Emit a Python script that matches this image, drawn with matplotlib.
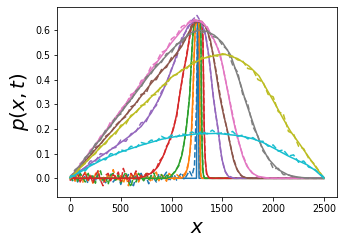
import numpy as np
import matplotlib
matplotlib.use("Agg")
import matplotlib.pyplot as plt

# ---------------- solid curves (x, p) ----------------
blue_x = [0, 1245, 1255, 1262, 1270, 2500]
blue_y = [0, 0, 0.63, 0.63, 0, 0]

orange_x = [0, 1080, 1105, 1135, 1160, 1178, 1195, 1208, 1222, 1233, 1245, 1268, 1273, 1277, 1281, 1286, 1295, 2500]
orange_y = [0, 0, 0.002, 0.015, 0.045, 0.094, 0.19, 0.32, 0.5, 0.615, 0.635, 0.635, 0.58, 0.4, 0.13, 0.02, 0, 0]

green_x = [0, 950, 987, 1036, 1070, 1102, 1125, 1145, 1162, 1178, 1191, 1205, 1217, 1232, 1283, 1289, 1294, 1300, 1307, 1315, 1330, 2500]
green_y = [0, 0, 0.006, 0.027, 0.055, 0.094, 0.15, 0.203, 0.27, 0.335, 0.45, 0.55, 0.615, 0.635, 0.635, 0.56, 0.33, 0.13, 0.04, 0.008, 0, 0]

red_x = [0, 650, 700, 760, 822, 870, 921, 970, 1020, 1050, 1079, 1110, 1151, 1175, 1195, 1215, 1300, 1308, 1314, 1320, 1327, 1334, 1345, 1365, 1390, 2500]
red_y = [0, 0, 0.004, 0.012, 0.027, 0.05, 0.094, 0.145, 0.203, 0.26, 0.335, 0.42, 0.5, 0.57, 0.615, 0.635, 0.635, 0.56, 0.4, 0.22, 0.11, 0.06, 0.02, 0.003, 0, 0]

purple_x = [0, 150, 300, 450, 600, 700, 800, 900, 1000, 1100, 1160, 1220, 1290, 1330, 1365, 1390, 1410, 1435, 1457, 1480, 1497, 1530, 1563, 1620, 2500]
purple_y = [0, 0.045, 0.088, 0.13, 0.175, 0.21, 0.265, 0.34, 0.44, 0.56, 0.615, 0.635, 0.635, 0.59, 0.5, 0.41, 0.33, 0.26, 0.2, 0.12, 0.075, 0.025, 0.006, 0, 0]

brown_x = [0, 300, 600, 800, 1000, 1100, 1180, 1230, 1300, 1340, 1382, 1420, 1475, 1510, 1546, 1580, 1612, 1650, 1694, 1750, 2500]
brown_y = [0, 0.14, 0.28, 0.385, 0.48, 0.535, 0.6, 0.63, 0.635, 0.61, 0.56, 0.47, 0.33, 0.26, 0.2, 0.13, 0.07, 0.03, 0.008, 0, 0]

pink_x = [0, 300, 600, 800, 1000, 1100, 1170, 1220, 1300, 1350, 1420, 1480, 1520, 1563, 1600, 1622, 1660, 1700, 1740, 1790, 1850, 1950, 2000, 2500]
pink_y = [0, 0.165, 0.33, 0.44, 0.55, 0.6, 0.63, 0.638, 0.635, 0.61, 0.56, 0.5, 0.42, 0.33, 0.25, 0.21, 0.15, 0.09, 0.05, 0.022, 0.008, 0.001, 0, 0]

gray_x = [0, 300, 600, 800, 1000, 1100, 1200, 1280, 1350, 1420, 1500, 1580, 1630, 1680, 1730, 1780, 1830, 1880, 1950, 2050, 2150, 2250, 2350, 2500]
gray_y = [0, 0.16, 0.32, 0.43, 0.52, 0.56, 0.592, 0.6, 0.595, 0.58, 0.55, 0.5, 0.44, 0.38, 0.31, 0.25, 0.19, 0.135, 0.08, 0.035, 0.013, 0.004, 0.001, 0]

olive_x = [0, 300, 600, 800, 1000, 1150, 1300, 1450, 1530, 1650, 1760, 1860, 2007, 2100, 2171, 2250, 2336, 2420, 2500]
olive_y = [0, 0.125, 0.25, 0.33, 0.41, 0.45, 0.485, 0.5, 0.502, 0.485, 0.455, 0.415, 0.31, 0.24, 0.19, 0.145, 0.094, 0.045, 0]

cyan_x = [0, 100, 200, 345, 500, 707, 900, 1036, 1250, 1450, 1678, 1800, 1900, 2007, 2150, 2336, 2420, 2500]
cyan_y = [0.003, 0.025, 0.05, 0.081, 0.107, 0.135, 0.158, 0.169, 0.18, 0.182, 0.172, 0.16, 0.145, 0.122, 0.09, 0.054, 0.03, 0]

# ---------------- noisy (dashed) data ----------------
noise_step = 25
blue_noise = [0.005, -0.01, 0.012, -0.015, 0.02, -0.005, 0.01, -0.02, 0.015, 0.0,
              -0.012, 0.025, -0.01, 0.005, -0.018, 0.01, 0.02, -0.015, 0.0, 0.012,
              -0.025, 0.008, -0.005, 0.015, -0.02, -0.03, 0.01, -0.01, 0.02, -0.008,
              0.005, -0.022, 0.012, 0.0, -0.015, 0.018, -0.005, 0.01, 0.025, -0.012,
              0.005, 0.015, -0.008, 0.01, 0.022, -0.005, 0.012, 0.03, 0.01]
blue_tail_x = [1225, 1245, 1255, 1265, 1275, 1300, 2500]
blue_tail_y = [0.05, 0.3, 0.62, 0.3, 0.02, 0.0, 0.0]

orange_noise = [-0.005, 0.015, -0.012, 0.02, 0.008, -0.018, 0.025, -0.01, 0.012, -0.02,
                0.018, 0.03, -0.008, 0.01, -0.015, 0.02, -0.01, 0.035, 0.005, -0.012,
                0.015, -0.02, 0.01, -0.03, 0.02, -0.005, 0.03, -0.015, 0.01, -0.008,
                0.02, 0.0, -0.015, 0.012, 0.025, -0.01, 0.015, 0.005, -0.012, 0.02,
                0.01, -0.005, 0.015]
orange_tail_x = [1080, 1110, 1140, 1165, 1185, 1200, 1212, 1222, 1235, 1255, 1270, 1276, 1281, 1287, 1300, 2500]
orange_tail_y = [0.005, 0.01, 0.025, 0.06, 0.12, 0.21, 0.34, 0.5, 0.62, 0.64, 0.63, 0.42, 0.12, 0.01, 0, 0]

green_noise = [0.01, -0.008, 0.015, -0.012, 0.02, 0.005, -0.015, 0.025, -0.005, 0.01,
               -0.02, 0.015, 0.03, -0.01, 0.005, -0.025, 0.012, 0.02, -0.008, 0.015,
               -0.018, 0.008, 0.025, -0.012, -0.035, 0.01, -0.015, 0.02, 0.005, -0.01,
               0.018, -0.005, 0.012, 0.022, -0.008, 0.01, 0.015, -0.005, 0.012]
green_tail_x = [975, 1000, 1036, 1070, 1102, 1125, 1145, 1162, 1178, 1191, 1205, 1218, 1235, 1280, 1289, 1294, 1301, 1310, 1325, 2500]
green_tail_y = [0.01, 0.012, 0.03, 0.05, 0.1, 0.145, 0.21, 0.27, 0.34, 0.44, 0.56, 0.62, 0.64, 0.635, 0.58, 0.33, 0.13, 0.02, 0, 0]

red_noise = [-0.01, 0.012, -0.005, 0.02, -0.015, 0.008, 0.025, -0.012, 0.015, -0.02,
             0.01, 0.03, -0.008, -0.03, 0.012, 0.02, -0.01, 0.015, 0.005, 0.025,
             -0.012, 0.04, 0.01, -0.015, 0.02, 0.005, 0.03, -0.01, 0.012]
red_tail_x = [725, 760, 790, 822, 850, 880, 921, 950, 985, 1020, 1050, 1079, 1110, 1151, 1175, 1195, 1220, 1295, 1308, 1315, 1323, 1332, 1345, 1370, 1400, 2500]
red_tail_y = [0.01, 0.02, 0.015, 0.035, 0.04, 0.07, 0.09, 0.13, 0.15, 0.21, 0.25, 0.34, 0.41, 0.51, 0.56, 0.625, 0.64, 0.635, 0.58, 0.37, 0.17, 0.07, 0.018, 0.002, 0, 0]

purple_dx = [0, 50, 100, 150, 200, 250, 300, 350, 400, 450, 500, 550, 600, 650, 700, 750, 800, 850, 900, 950,
             1000, 1050, 1100, 1150, 1200, 1250, 1300, 1340, 1370, 1400, 1430, 1460, 1490, 1520, 1550, 1600, 1700, 2500]
purple_dy = [0.005, 0.01, 0.035, 0.04, 0.07, 0.07, 0.1, 0.095, 0.12, 0.125, 0.155, 0.15, 0.18, 0.19, 0.225, 0.23, 0.275, 0.295, 0.35, 0.385,
             0.445, 0.49, 0.57, 0.6, 0.64, 0.66, 0.625, 0.57, 0.48, 0.37, 0.27, 0.19, 0.09, 0.035, 0.012, 0.002, 0, 0]

brown_dx = [0, 50, 100, 150, 200, 250, 300, 350, 400, 450, 500, 550, 600, 650, 700, 750, 800, 850, 900, 950,
            1000, 1050, 1100, 1150, 1200, 1250, 1300, 1350, 1400, 1440, 1480, 1520, 1560, 1600, 1640, 1680, 1720, 1800, 2500]
brown_dy = [0.0, 0.03, 0.045, 0.075, 0.09, 0.125, 0.135, 0.17, 0.185, 0.215, 0.235, 0.25, 0.29, 0.3, 0.34, 0.345, 0.395, 0.4, 0.44, 0.45,
            0.49, 0.5, 0.545, 0.57, 0.62, 0.64, 0.63, 0.6, 0.52, 0.43, 0.33, 0.245, 0.17, 0.095, 0.04, 0.012, 0.003, 0, 0]

pink_dx = [0, 50, 100, 150, 200, 250, 300, 350, 400, 450, 500, 550, 600, 650, 700, 750, 800, 850, 900, 950,
           1000, 1050, 1100, 1150, 1200, 1250, 1300, 1350, 1400, 1450, 1500, 1550, 1600, 1650, 1700, 1750, 1800, 1850, 1900, 2000, 2500]
pink_dy = [0.01, 0.02, 0.06, 0.075, 0.115, 0.13, 0.17, 0.185, 0.23, 0.24, 0.28, 0.3, 0.34, 0.35, 0.395, 0.41, 0.455, 0.47, 0.51, 0.52,
           0.565, 0.58, 0.615, 0.625, 0.645, 0.64, 0.63, 0.615, 0.57, 0.535, 0.46, 0.36, 0.26, 0.16, 0.095, 0.045, 0.02, 0.006, 0.002, 0, 0]

gray_dx = [0, 50, 100, 150, 200, 250, 300, 350, 400, 450, 500, 550, 600, 650, 700, 750, 800, 850, 900, 950,
           1000, 1050, 1100, 1150, 1200, 1250, 1300, 1350, 1400, 1450, 1500, 1550, 1600, 1650, 1700, 1750, 1800, 1850, 1900, 1950,
           2000, 2050, 2100, 2150, 2200, 2300, 2400, 2500]
gray_dy = [0.0, 0.035, 0.05, 0.085, 0.1, 0.14, 0.155, 0.195, 0.21, 0.25, 0.26, 0.3, 0.315, 0.355, 0.37, 0.41, 0.425, 0.46, 0.47, 0.505,
           0.51, 0.545, 0.55, 0.58, 0.585, 0.6, 0.59, 0.6, 0.575, 0.57, 0.54, 0.52, 0.46, 0.43, 0.34, 0.3, 0.21, 0.17, 0.11, 0.085,
           0.04, 0.04, 0.015, 0.014, 0.005, 0.002, 0, 0]

olive_dx = [0, 50, 100, 150, 200, 250, 300, 350, 400, 450, 500, 550, 600, 650, 700, 750, 800, 850, 900, 950,
            1000, 1050, 1100, 1150, 1200, 1250, 1300, 1350, 1400, 1450, 1500, 1550, 1600, 1650, 1700, 1750, 1800, 1850, 1900, 1950,
            2000, 2050, 2100, 2150, 2200, 2250, 2300, 2350, 2400, 2450, 2500]
olive_dy = [0.005, 0.015, 0.045, 0.06, 0.085, 0.1, 0.13, 0.14, 0.17, 0.18, 0.215, 0.22, 0.255, 0.265, 0.295, 0.3, 0.335, 0.34, 0.375, 0.38,
            0.415, 0.42, 0.44, 0.445, 0.47, 0.475, 0.49, 0.49, 0.5, 0.495, 0.505, 0.5, 0.495, 0.48, 0.475, 0.445, 0.44, 0.4, 0.39, 0.34,
            0.33, 0.27, 0.26, 0.19, 0.18, 0.13, 0.12, 0.08, 0.06, 0.03, 0.0]

cyan_dx = [0, 50, 100, 150, 200, 250, 300, 350, 400, 450, 500, 550, 600, 650, 700, 750, 800, 850, 900, 950,
           1000, 1050, 1100, 1150, 1200, 1250, 1300, 1350, 1400, 1450, 1500, 1550, 1600, 1650, 1700, 1750, 1800, 1850, 1900, 1950,
           2000, 2050, 2100, 2150, 2200, 2250, 2300, 2350, 2400, 2450, 2500]
cyan_dy = [0.01, 0.01, 0.03, 0.03, 0.055, 0.06, 0.08, 0.075, 0.1, 0.095, 0.115, 0.11, 0.13, 0.125, 0.145, 0.14, 0.155, 0.15, 0.17, 0.16,
           0.175, 0.168, 0.18, 0.175, 0.188, 0.178, 0.19, 0.18, 0.195, 0.18, 0.185, 0.178, 0.19, 0.17, 0.175, 0.16, 0.165, 0.15, 0.15, 0.13,
           0.135, 0.11, 0.115, 0.09, 0.095, 0.065, 0.07, 0.045, 0.04, 0.02, 0.005]


def noisy(noise, tail_x, tail_y):
    nx = list(np.arange(len(noise)) * noise_step)
    return nx + list(tail_x), list(noise) + list(tail_y)


series = [
    ("C0", (blue_x, blue_y), noisy(blue_noise, blue_tail_x, blue_tail_y)),
    ("C1", (orange_x, orange_y), noisy(orange_noise, orange_tail_x, orange_tail_y)),
    ("C2", (green_x, green_y), noisy(green_noise, green_tail_x, green_tail_y)),
    ("C3", (red_x, red_y), noisy(red_noise, red_tail_x, red_tail_y)),
    ("C4", (purple_x, purple_y), (purple_dx, purple_dy)),
    ("C5", (brown_x, brown_y), (brown_dx, brown_dy)),
    ("C6", (pink_x, pink_y), (pink_dx, pink_dy)),
    ("C7", (gray_x, gray_y), (gray_dx, gray_dy)),
    ("C8", (olive_x, olive_y), (olive_dx, olive_dy)),
    ("C9", (cyan_x, cyan_y), (cyan_dx, cyan_dy)),
]

fig = plt.figure(figsize=(343 / 72, 244 / 72), dpi=72)
ax = fig.add_axes([57.3 / 343, 1 - 196.7 / 244, (336.7 - 57.3) / 343, (196.7 - 7.3) / 244])

for color, (sx, sy), (dx, dy) in series:
    ax.plot(sx, sy, color=color, lw=1.5)
    ax.plot(dx, dy, color=color, lw=1.5, ls="--")

ax.set_xlim(-125, 2625)
ax.set_ylim(-0.0746, 0.693)
ax.set_xticks([0, 500, 1000, 1500, 2000, 2500])
ax.set_yticks([0.0, 0.1, 0.2, 0.3, 0.4, 0.5, 0.6])
ax.tick_params(labelsize=9.5)
ax.set_xlabel(r"$x$", fontsize=20)
ax.set_ylabel(r"$p(x,t)$", fontsize=20)

fig.savefig("out.png", dpi=72)
